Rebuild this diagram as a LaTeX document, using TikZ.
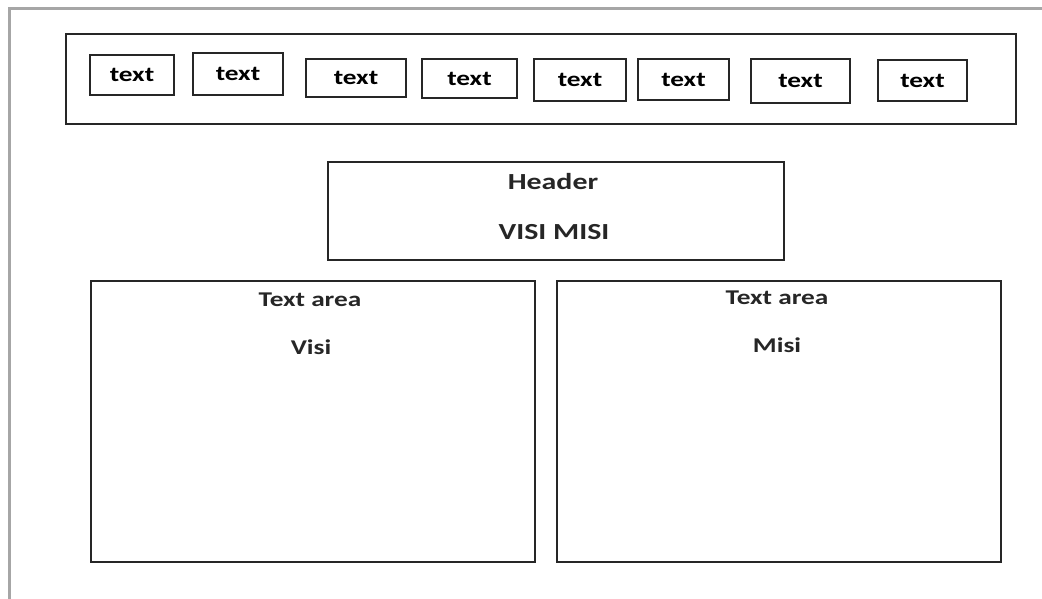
\documentclass[tikz,border=0pt]{standalone}
\usepackage{fontspec}
\setmainfont[FakeStretch=1.3]{Carlito}
\usepackage{tikz}
\tikzstyle{page} = [draw=black!35, line width=3pt]
\tikzstyle{box} = [draw=black!85, line width=1.6pt, inner sep=0pt]
\tikzstyle{menu} = [box, font={\bfseries\fontsize{21}{24}\selectfont}]
\tikzstyle{lbl} = [inner sep=0pt, font={\bfseries\fontsize{21}{24}\selectfont}, text=black!85]
\tikzstyle{big} = [lbl, font={\bfseries\fontsize{23}{26}\selectfont}]

\begin{document}
\begin{tikzpicture}[x=1pt,y=-1pt]
        \useasboundingbox (0,0) rectangle (1042,599);
        \draw[page] (1042,9) -- (9,9) -- (9,599);
        \node[box,minimum width=950pt,minimum height=90pt](nav) at (541,79){};
        \node[menu,minimum width=84pt,minimum height=40pt](m1) at (132,75){text};
        \node[menu,minimum width=90pt,minimum height=42pt](m2) at (238,74){text};
        \node[menu,minimum width=100pt,minimum height=38pt](m3) at (356,78){text};
        \node[menu,minimum width=95pt,minimum height=39pt](m4) at (469.5,78.5){text};
        \node[menu,minimum width=92pt,minimum height=42pt](m5) at (580,80){text};
        \node[menu,minimum width=91pt,minimum height=41pt](m6) at (683.5,79.5){text};
        \node[menu,minimum width=99pt,minimum height=44pt](m7) at (800.5,81){text};
        \node[menu,minimum width=89pt,minimum height=41pt](m8) at (922.5,80.5){text};
        \node[box,minimum width=456pt,minimum height=98pt](header) at (556,211){};
        \node[big](headertitle) at (553,182){Header};
        \node[big](visimisi) at (554,232.5){VISI MISI};
        \node[box,minimum width=444pt,minimum height=281pt](visibox) at (313,421.5){};
        \node[lbl](visititle) at (310,300){Text area};
        \node[lbl](visi) at (311,347.5){Visi};
        \node[box,minimum width=444pt,minimum height=281pt](misibox) at (779,421.5){};
        \node[lbl](misititle) at (777,298){Text area};
        \node[lbl](misi) at (777,345.5){Misi};
      \end{tikzpicture}
\end{document}
